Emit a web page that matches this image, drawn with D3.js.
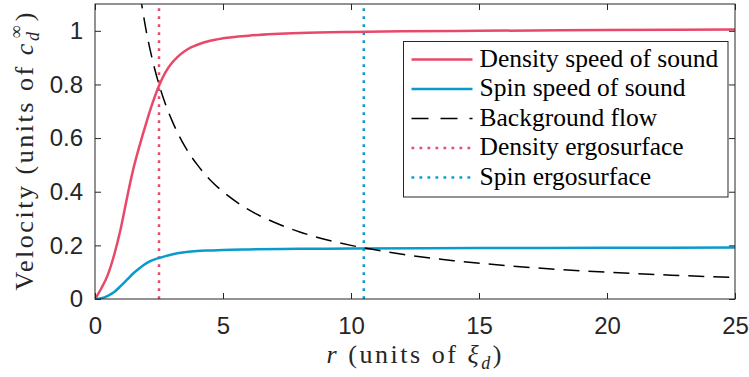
<!DOCTYPE html>
<html>
<head>
<meta charset="utf-8">
<script src="https://cdn.jsdelivr.net/npm/d3@7"></script>
<style>
  body { margin: 0; background: #fff; }
  svg .tick text { font-family: "Liberation Sans"; font-size: 24px; fill: #262626; }
  svg text.serif { font-family: "Liberation Serif"; font-size: 25.5px; fill: #000; }
  svg text.label { font-family: "Liberation Serif"; font-size: 26px; fill: #262626; }
  svg tspan.it { font-style: italic; }
  svg tspan.small { font-size: 18px; }
</style>
</head>
<body>
<div id="chart"></div>
<script>
var svgWidth = 749;
var svgHeight = 377;

var margin = { top: 4, right: 14, bottom: 78, left: 95 };
var width = svgWidth - margin.left - margin.right;
var height = svgHeight - margin.top - margin.bottom;

// values
var rDensity = [0, 0.25, 0.5, 0.75, 1.0, 1.25, 1.5, 1.75, 2.0, 2.25, 2.5, 2.75, 3.0, 3.25, 3.5, 3.75, 4.0, 4.5, 5.0, 6.0, 7.0, 8.0, 10.0, 12.0, 15.0, 20.0, 25.0];
var vDensity = [0, 0.04, 0.09, 0.165, 0.26, 0.377, 0.486, 0.575, 0.656, 0.731, 0.795, 0.845, 0.88, 0.905, 0.924, 0.938, 0.948, 0.963, 0.972, 0.982, 0.988, 0.992, 0.996, 0.998, 1.0, 1.003, 1.005];

var rSpin = [0, 0.25, 0.5, 0.75, 1.0, 1.25, 1.5, 1.75, 2.0, 2.25, 2.5, 2.75, 3.0, 3.5, 4.0, 4.5, 5.0, 6.0, 8.0, 10.0, 15.0, 20.0, 25.0];
var vSpin = [0, 0.003, 0.012, 0.026, 0.048, 0.072, 0.096, 0.116, 0.133, 0.145, 0.153, 0.16, 0.166, 0.174, 0.179, 0.181, 0.183, 0.185, 0.187, 0.188, 0.19, 0.191, 0.192];

var rFlow = [1.75, 2.0, 2.25, 2.5, 2.75, 3.0, 3.5, 4.0, 4.5, 5.0, 6.0, 7.0, 8.0, 9.0, 10.0, 12.0, 14.0, 16.0, 18.0, 20.0, 22.5, 25.0];
var vFlow = [1.143, 1.0, 0.889, 0.8, 0.727, 0.667, 0.571, 0.5, 0.444, 0.4, 0.333, 0.286, 0.25, 0.222, 0.2, 0.167, 0.143, 0.125, 0.111, 0.1, 0.089, 0.08];

var densityErgo = 2.5;
var spinErgo = 10.5;

var xTicks = [0, 5, 10, 15, 20, 25];
var yTicks = [0, 0.2, 0.4, 0.6, 0.8, 1];

var legendNames = ["Density speed of sound", "Spin speed of sound", "Background flow", "Density ergosurface", "Spin ergosurface"];

var red = "#e8496a";
var blue = "#0a9bcc";
var axisColor = "#262626";

var svg = d3.select("#chart")
    .append("svg")
    .attr("width", svgWidth)
    .attr("height", svgHeight);

var chartGroup = svg.append("g")
    .attr("transform", `translate(${margin.left}, ${margin.top})`);

var xLinearScale = d3.scaleLinear().domain([0, 25]).range([0, width]);
var yLinearScale = d3.scaleLinear().domain([0, 1.1]).range([height, 0]);

// clip so the flow curve stops at the top edge
chartGroup.append("clipPath").attr("id", "clip")
    .append("rect").attr("width", width).attr("height", height);

var plot = chartGroup.append("g").attr("clip-path", "url(#clip)");

var line = d3.line()
    .x(d => xLinearScale(d[0]))
    .y(d => yLinearScale(d[1]))
    .curve(d3.curveMonotoneX);

// ergosurfaces
plot.append("line")
    .attr("x1", xLinearScale(densityErgo)).attr("x2", xLinearScale(densityErgo))
    .attr("y1", yLinearScale(0)).attr("y2", yLinearScale(1.1))
    .attr("stroke", red).attr("stroke-width", 2.5)
    .attr("stroke-dasharray", "2.7,5.3");

plot.append("line")
    .attr("x1", xLinearScale(spinErgo)).attr("x2", xLinearScale(spinErgo))
    .attr("y1", yLinearScale(0)).attr("y2", yLinearScale(1.1))
    .attr("stroke", blue).attr("stroke-width", 2.5)
    .attr("stroke-dasharray", "2.7,5.3");

// speeds of sound
plot.append("path")
    .datum(d3.zip(rDensity, vDensity))
    .attr("d", line)
    .attr("fill", "none").attr("stroke", red).attr("stroke-width", 2.5);

plot.append("path")
    .datum(d3.zip(rSpin, vSpin))
    .attr("d", line)
    .attr("fill", "none").attr("stroke", blue).attr("stroke-width", 2.5);

// background flow
plot.append("path")
    .datum(d3.zip(rFlow, vFlow))
    .attr("d", line)
    .attr("fill", "none").attr("stroke", "#000").attr("stroke-width", 1.5)
    .attr("stroke-dasharray", "16,9");

// axes with inward ticks on all four sides
var bottomAxis = d3.axisBottom(xLinearScale).tickValues(xTicks).tickSize(-6).tickPadding(18).tickFormat(d3.format("d"));
var leftAxis = d3.axisLeft(yLinearScale).tickValues(yTicks).tickSize(-6).tickPadding(12).tickFormat(d => d === 0 || d === 1 ? d : d.toFixed(1));
var topAxis = d3.axisTop(xLinearScale).tickValues(xTicks).tickSize(-6).tickFormat("");
var rightAxis = d3.axisRight(yLinearScale).tickValues(yTicks).tickSize(-6).tickFormat("");

function styleAxis(g) {
    g.selectAll(".domain").remove();
    g.selectAll(".tick line").attr("stroke", axisColor);
}

chartGroup.append("g").attr("transform", `translate(0, ${height})`).call(bottomAxis).call(styleAxis);
chartGroup.append("g").call(leftAxis).call(styleAxis);
chartGroup.append("g").call(topAxis).call(styleAxis);
chartGroup.append("g").attr("transform", `translate(${width}, 0)`).call(rightAxis).call(styleAxis);
chartGroup.append("rect")
    .attr("width", width).attr("height", height)
    .attr("fill", "none").attr("stroke", axisColor);

// legend
var legend = chartGroup.append("g").attr("transform", "translate(308.5, 37.5)");
legend.append("rect")
    .attr("width", 324.5).attr("height", 155.5)
    .attr("fill", "#fff").attr("stroke", axisColor);

var legendStyles = [
    { color: red, width: 2.5, dash: null },
    { color: blue, width: 2.5, dash: null },
    { color: "#000", width: 1.5, dash: "17,12" },
    { color: red, width: 2.5, dash: "2.7,5.3" },
    { color: blue, width: 2.5, dash: "2.7,5.3" }
];

legendNames.forEach(function (name, i) {
    var yy = 18 + i * 29.5;
    legend.append("line")
        .attr("x1", 8).attr("x2", 69).attr("y1", yy).attr("y2", yy)
        .attr("stroke", legendStyles[i].color)
        .attr("stroke-width", legendStyles[i].width)
        .attr("stroke-dasharray", legendStyles[i].dash);
    legend.append("text")
        .attr("class", "serif")
        .attr("x", 76).attr("y", yy + 7)
        .text(name);
});

// axis labels
var yLabel = svg.append("text")
    .attr("class", "label")
    .attr("transform", `translate(33, ${margin.top + height / 2}) rotate(-90)`)
    .attr("text-anchor", "middle")
    .attr("textLength", 278)
    .attr("lengthAdjust", "spacing");
yLabel.append("tspan").text("Velocity (units of ");
yLabel.append("tspan").attr("class", "it").text("c");
yLabel.append("tspan").attr("class", "it small").attr("dy", 6).text("d");
yLabel.append("tspan").attr("class", "small").attr("dy", -17).attr("dx", -9).text("∞");
yLabel.append("tspan").attr("dy", 11).attr("dx", 2).text(")");

var xLabel = svg.append("text")
    .attr("class", "label")
    .attr("transform", `translate(${margin.left + width / 2 - 1}, 363)`)
    .attr("text-anchor", "middle")
    .attr("textLength", 175)
    .attr("lengthAdjust", "spacing");
xLabel.append("tspan").attr("class", "it").text("r");
xLabel.append("tspan").text(" (units of ");
xLabel.append("tspan").attr("class", "it").text("ξ");
xLabel.append("tspan").attr("class", "it small").attr("dy", 6).text("d");
xLabel.append("tspan").attr("dy", -6).text(")");
</script>
</body>
</html>
